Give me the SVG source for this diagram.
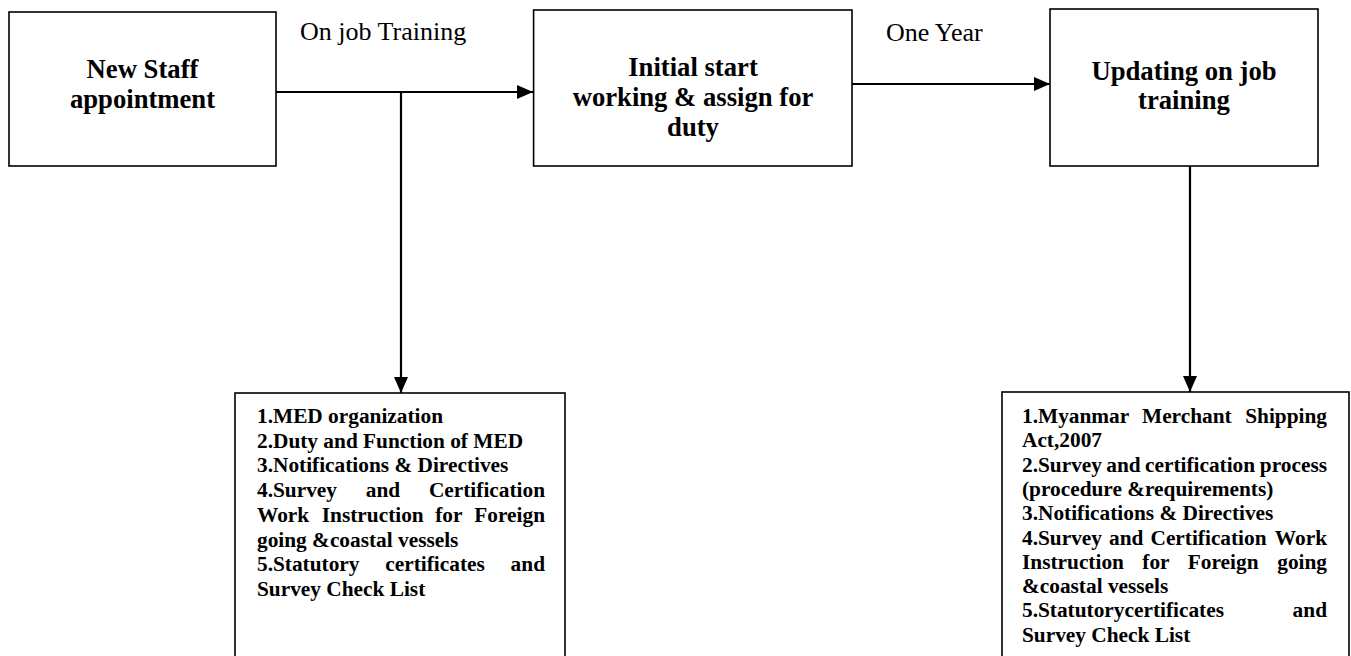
<svg xmlns="http://www.w3.org/2000/svg" width="1351" height="656" viewBox="0 0 1351 656">
  <style>
    .box { fill: #ffffff; stroke: #000000; stroke-width: 1.6; }
    .title { font-family: "Liberation Serif", "Times New Roman", serif; font-weight: bold; font-size: 26.67px; fill: #000; text-anchor: middle; }
    .label { font-family: "Liberation Serif", "Times New Roman", serif; font-size: 26px; fill: #000; }
    .list { font-family: "Liberation Serif", "Times New Roman", serif; font-weight: bold; font-size: 21.33px; fill: #000; }
    .end { text-anchor: end; }
    .conn { fill: none; stroke: #000000; stroke-width: 2.2; }
  </style>
  <defs>
    <marker id="arrow" markerUnits="userSpaceOnUse" markerWidth="16" markerHeight="14" refX="16" refY="7" orient="auto">
      <path d="M0,0 L16,7 L0,14 Z" fill="#000000"/>
    </marker>
  </defs>
  <rect width="1351" height="656" fill="#ffffff"/>

  <g id="connectors">
    <line class="conn" x1="276" y1="92" x2="533" y2="92" marker-end="url(#arrow)"/>
    <line class="conn" x1="401" y1="92" x2="401" y2="393" marker-end="url(#arrow)"/>
    <line class="conn" x1="852" y1="84" x2="1050" y2="84" marker-end="url(#arrow)"/>
    <line class="conn" x1="1190" y1="166" x2="1190" y2="392" marker-end="url(#arrow)"/>
    <text class="label" x="300" y="40">On job Training</text>
    <text class="label" x="886" y="41">One Year</text>
  </g>

  <g id="node-new-staff">
    <rect class="box" x="9" y="12" width="267" height="154"/>
    <text class="title" x="142.5" y="78">New Staff</text>
    <text class="title" x="142.5" y="108">appointment</text>
  </g>

  <g id="node-initial-start">
    <rect class="box" x="533.6" y="10" width="318.4" height="156"/>
    <text class="title" x="693" y="76">Initial start</text>
    <text class="title" x="693" y="106">working &amp; assign for</text>
    <text class="title" x="693" y="136">duty</text>
  </g>

  <g id="node-updating">
    <rect class="box" x="1050" y="9" width="268" height="157"/>
    <text class="title" x="1184" y="80">Updating on job</text>
    <text class="title" x="1184" y="109">training</text>
  </g>

  <g id="node-list-initial">
    <rect class="box" x="235" y="393" width="330" height="280"/>
    <text class="list" x="257" y="423">1.MED organization</text>
    <text class="list" x="257" y="447.7">2.Duty and Function of MED</text>
    <text class="list" x="257" y="472.4">3.Notifications &amp; Directives</text>
    <text class="list" x="257" y="497.1">4.Survey</text>
    <text class="list" x="365.8" y="497.1">and</text>
    <text class="list end" x="545" y="497.1">Certification</text>
    <text class="list" x="257" y="521.8">Work</text>
    <text class="list" x="321.8" y="521.8">Instruction</text>
    <text class="list" x="435.2" y="521.8">for</text>
    <text class="list end" x="545" y="521.8">Foreign</text>
    <text class="list" x="257" y="546.5">going &amp;coastal vessels</text>
    <text class="list" x="257" y="571.2">5.Statutory</text>
    <text class="list" x="385.3" y="571.2">certificates</text>
    <text class="list end" x="545" y="571.2">and</text>
    <text class="list" x="257" y="595.9">Survey Check List</text>
  </g>

  <g id="node-list-updating">
    <rect class="box" x="1002" y="392" width="347" height="280"/>
    <text class="list" x="1022" y="423">1.Myanmar</text>
    <text class="list" x="1142" y="423">Merchant</text>
    <text class="list end" x="1327" y="423">Shipping</text>
    <text class="list" x="1022" y="447.3">Act,2007</text>
    <text class="list" x="1022" y="471.6">2.Survey</text>
    <text class="list" x="1106.3" y="471.6">and</text>
    <text class="list" x="1145" y="471.6">certification</text>
    <text class="list end" x="1327" y="471.6">process</text>
    <text class="list" x="1022" y="495.9">(procedure &amp;requirements)</text>
    <text class="list" x="1022" y="520.2">3.Notifications &amp; Directives</text>
    <text class="list" x="1022" y="544.5">4.Survey</text>
    <text class="list" x="1109" y="544.5">and</text>
    <text class="list" x="1150.5" y="544.5">Certification</text>
    <text class="list end" x="1327" y="544.5">Work</text>
    <text class="list" x="1022" y="568.8">Instruction</text>
    <text class="list" x="1142.3" y="568.8">for</text>
    <text class="list" x="1187.8" y="568.8">Foreign</text>
    <text class="list end" x="1327" y="568.8">going</text>
    <text class="list" x="1022" y="593.1">&amp;coastal vessels</text>
    <text class="list" x="1022" y="617.4">5.Statutorycertificates</text>
    <text class="list end" x="1327" y="617.4">and</text>
    <text class="list" x="1022" y="641.7">Survey Check List</text>
  </g>
</svg>
